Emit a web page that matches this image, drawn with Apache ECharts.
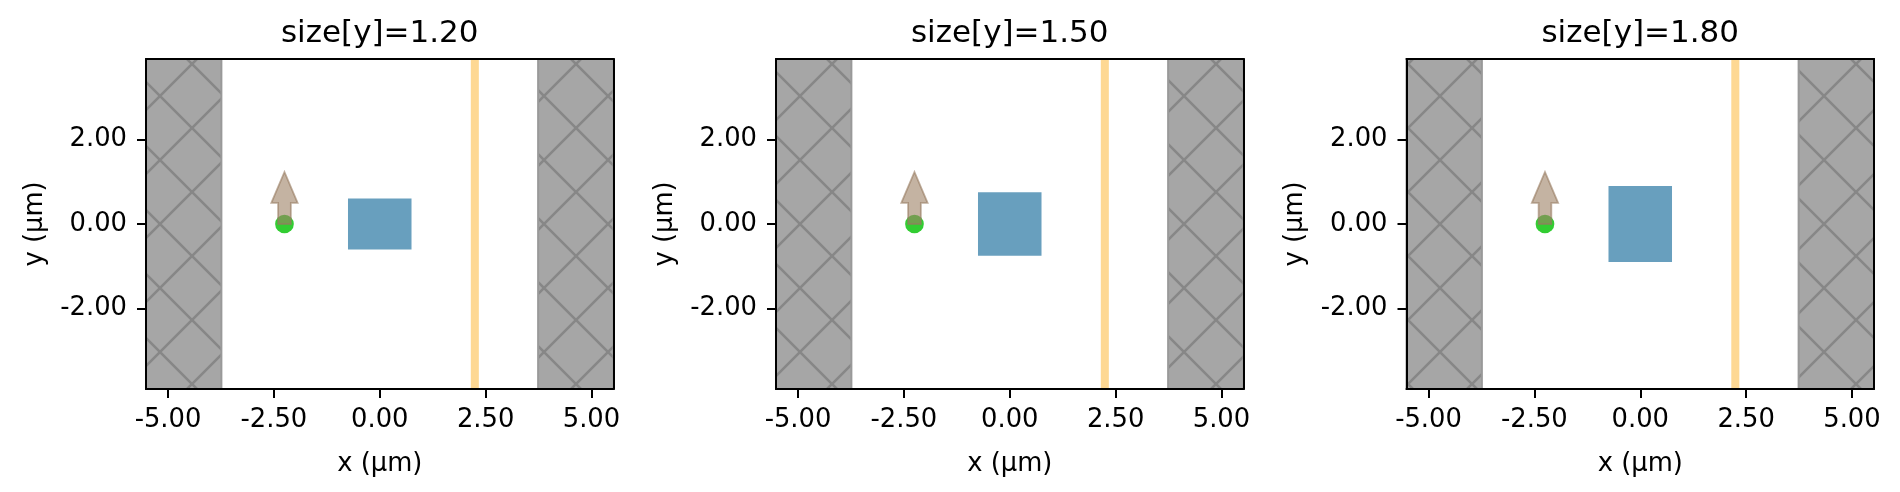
<!DOCTYPE html>
<html>
<head>
<meta charset="utf-8">
<script src="https://cdn.jsdelivr.net/npm/echarts@6/dist/echarts.min.js"></script>
<style>
    html, body { margin: 0; padding: 0; background: #fff; }
    #chart { width: 1900px; height: 492px; }
</style>
</head>
<body>
<div id="chart"></div>
<script>
/* ========== 数据 ========== */
const sizeY = [1.2, 1.5, 1.8];              // 每个子图中结构的 y 尺寸
const xRange = [-5.52, 5.52];
const yRange = [-3.9, 3.9];
const xTicks = [-5, -2.5, 0, 2.5, 5];
const yTicks = [-2, 0, 2];
const pmlX = [[-5.52, -3.74], [3.74, 5.52]]; // PML 区域 x 范围 (全高)
const boxX = [-0.75, 0.75];
const monitorX = [2.15, 2.34];
const sourceXY = [-2.25, 0];
const polArrow = [0.5, 1.23];                // 箭头头部起点 y、箭尖 y
const arrowHalf = [0.15, 0.31];              // 箭杆、箭头半宽 (μm)

/* ========== 布局 ========== */
const gridLeft = [146, 776, 1406.5];
const gridTop = 59, gridW = 467.5, gridH = 330;
const FONT = "DejaVu Sans";

function makeHatch() {
    const c = document.createElement("canvas");
    c.width = 64; c.height = 64;
    const g = c.getContext("2d");
    g.fillStyle = "#a6a6a6";
    g.fillRect(0, 0, 64, 64);
    g.strokeStyle = "#878787";
    g.lineWidth = 2.6;
    g.beginPath();
    g.moveTo(-8, -8); g.lineTo(72, 72);
    g.moveTo(72, -8); g.lineTo(-8, 72);
    g.stroke();
    return c;
}
const hatch = { image: makeHatch(), repeat: "repeat" };

function rectRender(style) {
    return (params, api) => {
        const p0 = api.coord([api.value(0), api.value(3)]);
        const p1 = api.coord([api.value(1), api.value(2)]);
        return {
            type: "rect",
            shape: { x: p0[0], y: p0[1], width: p1[0] - p0[0], height: p1[1] - p0[1] },
            style: style,
        };
    };
}

function arrowRender(params, api) {
    const sx = api.value(0), sy = api.value(1);
    const hb = api.value(2), tip = api.value(3);
    const [sw, hw] = arrowHalf;
    const pts = [
        [sx - sw, sy], [sx - sw, hb], [sx - hw, hb], [sx, tip],
        [sx + hw, hb], [sx + sw, hb], [sx + sw, sy],
    ].map(p => api.coord(p));
    return {
        type: "polygon",
        shape: { points: pts },
        style: { fill: "rgba(157,128,100,0.6)", stroke: "rgba(150,122,95,0.6)", lineWidth: 1.8 },
    };
}

const grids = [], xAxes = [], yAxes = [], series = [], graphics = [];
const lineStyle = { color: "#000", width: 2 };
const labelStyle = { color: "#000", fontSize: 25.8, fontFamily: FONT };

sizeY.forEach((sy, i) => {
    grids.push({ left: gridLeft[i], top: gridTop, width: gridW, height: gridH });

    xAxes.push({
        gridIndex: i, type: "value", min: xRange[0], max: xRange[1], position: "bottom", z: 6,
        axisLine: { show: true, onZero: false, lineStyle },
        axisTick: { show: true, customValues: xTicks, length: 9, lineStyle },
        axisLabel: { customValues: xTicks, margin: 18, formatter: v => v.toFixed(2), ...labelStyle },
        splitLine: { show: false },
        name: "x (μm)", nameLocation: "middle", nameGap: 62, nameTextStyle: labelStyle,
    });
    xAxes.push({
        gridIndex: i, type: "value", min: xRange[0], max: xRange[1], position: "top", z: 6,
        axisLine: { show: true, onZero: false, lineStyle },
        axisTick: { show: false }, axisLabel: { show: false }, splitLine: { show: false },
    });
    yAxes.push({
        gridIndex: i, type: "value", min: yRange[0], max: yRange[1], position: "left", z: 6,
        axisLine: { show: true, onZero: false, lineStyle },
        axisTick: { show: true, customValues: yTicks, length: 9, lineStyle },
        axisLabel: { customValues: yTicks, margin: 19, formatter: v => v.toFixed(2), ...labelStyle },
        splitLine: { show: false },
        name: "y (μm)", nameLocation: "middle", nameGap: 98, nameTextStyle: labelStyle,
    });
    yAxes.push({
        gridIndex: i, type: "value", min: yRange[0], max: yRange[1], position: "right", z: 6,
        axisLine: { show: true, onZero: false, lineStyle },
        axisTick: { show: false }, axisLabel: { show: false }, splitLine: { show: false },
    });

    const ax = { xAxisIndex: 2 * i, yAxisIndex: 2 * i };
    series.push({
        type: "custom", ...ax, z: 2, silent: true,
        renderItem: rectRender({ fill: hatch, stroke: "#999", lineWidth: 2 }),
        data: pmlX.map(r => [r[0], r[1], yRange[0], yRange[1]]),
    });
    series.push({
        type: "custom", ...ax, z: 3, silent: true,
        renderItem: rectRender({ fill: "#689fbe" }),
        data: [[boxX[0], boxX[1], -sy / 2, sy / 2]],
    });
    series.push({
        type: "custom", ...ax, z: 3, silent: true,
        renderItem: rectRender({ fill: "#fed893" }),
        data: [[monitorX[0], monitorX[1], yRange[0], yRange[1]]],
    });
    series.push({
        type: "scatter", ...ax, z: 4, silent: true,
        symbolSize: 18.7, itemStyle: { color: "#32cd32", opacity: 1 },
        data: [sourceXY],
    });
    series.push({
        type: "custom", ...ax, z: 5, silent: true,
        renderItem: arrowRender,
        data: [[sourceXY[0], sourceXY[1], polArrow[0], polArrow[1]]],
    });

    graphics.push({
        type: "text", x: gridLeft[i] + gridW / 2, y: 33.8,
        style: {
            text: "size[y]=" + sy.toFixed(2), fill: "#000", font: `31px "${FONT}"`,
            align: "center", verticalAlign: "middle", textAlign: "center", textVerticalAlign: "middle",
        },
    });
});

const chart = echarts.init(document.getElementById("chart"));
chart.setOption({
    animation: false,
    grid: grids,
    xAxis: xAxes,
    yAxis: yAxes,
    series,
    graphic: graphics,
});
</script>
</body>
</html>
